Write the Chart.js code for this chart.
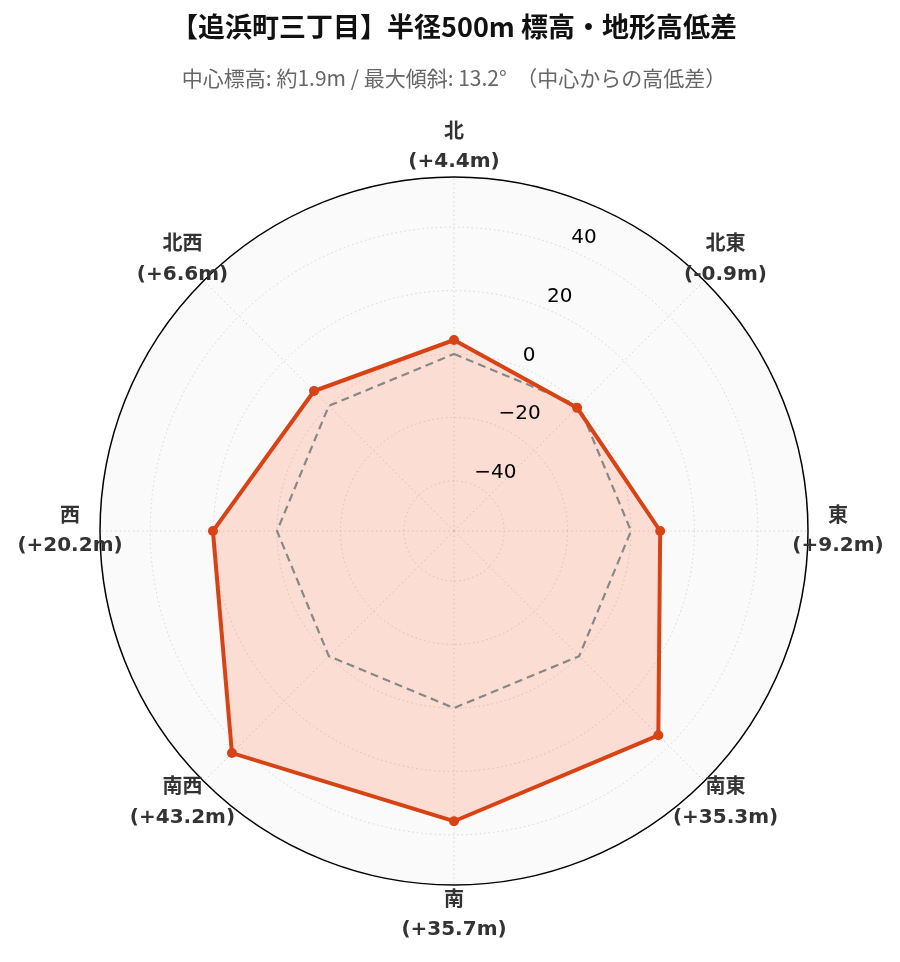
<!DOCTYPE html>
<html>
<head>
<meta charset="utf-8">
<script src="https://cdn.jsdelivr.net/npm/chart.js@4/dist/chart.umd.min.js"></script>
<style>
  body { margin: 0; background: #fff; }
  #wrap { width: 900px; height: 962px; position: relative; }
</style>
</head>
<body>
<div id="wrap"><canvas id="radarChart"></canvas></div>
<script>
// Data
var directions = ["北", "北東", "東", "南東", "南", "南西", "西", "北西"];
var diffs = [4.4, -0.9, 9.2, 35.3, 35.7, 43.2, 20.2, 6.6]; // height difference from centre (m)
var baseline = [0, 0, 0, 0, 0, 0, 0, 0];                    // centre level
var tickValues = [-40, -20, 0, 20, 40];
var rMin = -55.8;
var rMax = 55.8;

var titleText = "【追浜町三丁目】半径500m 標高・地形高低差";
var subtitleText = "中心標高: 約1.9m / 最大傾斜: 13.2°  （中心からの高低差）";

function fmtTick(v) {
    return v < 0 ? "\u2212" + Math.abs(v) : String(v);
}

function fmtDiff(d) {
    return "(" + (d >= 0 ? "+" : "") + d.toFixed(1) + "m)";
}

// draws radial tick labels (at 22.5deg) and the direction labels
var polarText = {
    id: 'polarText',
    afterDraw: function(chart) {
        var scale = chart.scales.r;
        var ctx = chart.ctx;
        ctx.save();

        ctx.font = '20px "DejaVu Sans"';
        ctx.fillStyle = '#000';
        ctx.textAlign = 'left';
        ctx.textBaseline = 'bottom';
        tickValues.forEach(function(v) {
            var p = scale.getPointPosition(0, scale.getDistanceFromCenterForValue(v), Math.PI / 8);
            ctx.fillText(fmtTick(v), p.x + 1, p.y - 2);
        });

        ctx.font = 'bold 20px "DejaVu Sans", "Noto Sans CJK JP"';
        ctx.fillStyle = '#333';
        ctx.textAlign = 'center';
        ctx.textBaseline = 'middle';
        directions.forEach(function(dir, i) {
            var p = scale.getPointPosition(i, scale.drawingArea + 30);
            ctx.fillText(dir, p.x, p.y - 14.5);
            ctx.fillText(fmtDiff(diffs[i]), p.x, p.y + 15);
        });
        ctx.restore();
    }
};

function createRadarChart() {
    var ctx = document.getElementById('radarChart').getContext('2d');

    new Chart(ctx, {
        type: 'radar',
        data: {
            labels: directions,
            datasets: [{
                label: '高低差',
                data: diffs,
                borderColor: '#D84315',
                backgroundColor: 'rgba(255, 87, 34, 0.18)',
                borderWidth: 4,
                fill: 'start',
                pointRadius: 5,
                pointBackgroundColor: '#D84315',
                pointBorderWidth: 0
            }, {
                label: '中心',
                data: baseline,
                borderColor: '#888',
                borderWidth: 2.2,
                borderDash: [8, 5],
                fill: false,
                pointRadius: 0
            }]
        },
        options: {
            responsive: true,
            maintainAspectRatio: false,
            animation: false,
            layout: {
                padding: { top: 0, left: 99, right: 91, bottom: 76 }
            },
            plugins: {
                legend: { display: false },
                tooltip: { enabled: false },
                filler: { drawTime: 'beforeDatasetsDraw' },
                title: {
                    display: true,
                    text: titleText,
                    color: '#111',
                    font: { family: '"Noto Sans CJK JP"', size: 27, weight: 'bold' },
                    padding: { top: 10.8, bottom: 22 }
                },
                subtitle: {
                    display: true,
                    text: subtitleText,
                    color: '#666',
                    font: { family: '"Noto Sans CJK JP"', size: 21 },
                    padding: { top: 0, bottom: 86.6 }
                }
            },
            scales: {
                r: {
                    min: rMin,
                    max: rMax,
                    backgroundColor: '#fafafa',
                    afterBuildTicks: function(scale) {
                        scale.ticks = tickValues.concat([rMax]).map(function(v) { return { value: v }; });
                    },
                    ticks: { display: false },
                    pointLabels: { display: false },
                    grid: {
                        circular: true,
                        color: function(c) { return c.tick && c.tick.value === rMax ? '#000' : '#d6d6d6'; },
                        lineWidth: function(c) { return c.tick && c.tick.value === rMax ? 1.5 : 1; }
                    },
                    border: {
                        dash: function(c) { return c.tick && c.tick.value === rMax ? [] : [1.5, 3]; }
                    },
                    angleLines: {
                        display: true,
                        color: '#d6d6d6',
                        lineWidth: 1,
                        borderDash: [1.5, 3]
                    }
                }
            }
        },
        plugins: [polarText]
    });
}

createRadarChart();
</script>
</body>
</html>
